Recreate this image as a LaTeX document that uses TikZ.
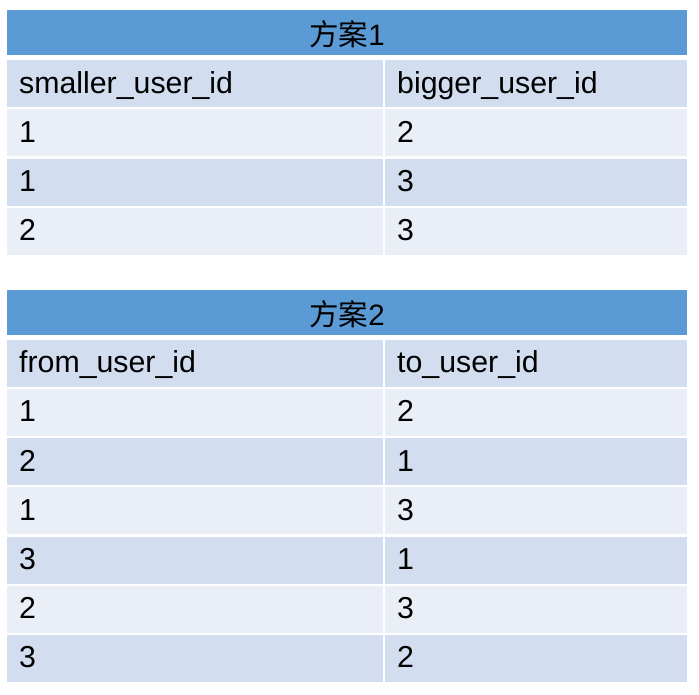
\documentclass[tikz,border=0pt]{standalone}
\usepackage{fontspec}
\setmainfont{Liberation Sans}
\newfontfamily\cjk{Noto Sans CJK SC}
\definecolor{headblue}{HTML}{5B9BD5}
\definecolor{rowdark}{HTML}{D2DEEF}
\definecolor{rowlight}{HTML}{EAEFF7}
\tikzset{
  cell/.style={rectangle, anchor=north west, inner xsep=12pt, inner ysep=0pt,
    minimum height=47pt, text height=21pt, text depth=2pt, align=left,
    font=\fontsize{30.3}{36}\selectfont},
  leftcell/.style={cell, text width=352pt},
  rightcell/.style={cell, text width=278pt},
  headcell/.style={rectangle, anchor=north west, fill=headblue, inner sep=0pt,
    minimum width=680pt, minimum height=45pt, text height=25pt, text depth=0pt,
    font=\fontsize{29.5}{35}\selectfont},
}
\begin{document}
\begin{tikzpicture}[x=1pt,y=-1pt]
        \useasboundingbox (0,0) rectangle (699,694);
        % 方案1
        \node[headcell] (headA) at (7,10) {{\cjk 方案}1};
        \foreach \i/\l/\r/\c in {0/smaller\_user\_id/bigger\_user\_id/rowdark,
            1/1/2/rowlight, 2/1/3/rowdark, 3/2/3/rowlight} {
            \node[leftcell, fill=\c] (a\i-l) at (7,{60+49.2*\i}) {\l};
            \node[rightcell, fill=\c] (a\i-r) at (385,{60+49.2*\i}) {\r};
        }
        % 方案2
        \node[headcell] (headB) at (7,290) {{\cjk 方案}2};
        \foreach \i/\l/\r/\c in {0/from\_user\_id/to\_user\_id/rowdark,
            1/1/2/rowlight, 2/2/1/rowdark, 3/1/3/rowlight,
            4/3/1/rowdark, 5/2/3/rowlight, 6/3/2/rowdark} {
            \node[leftcell, fill=\c] (b\i-l) at (7,{339.5+49.2*\i}) {\l};
            \node[rightcell, fill=\c] (b\i-r) at (385,{339.5+49.2*\i}) {\r};
        }
    \end{tikzpicture}
\end{document}
